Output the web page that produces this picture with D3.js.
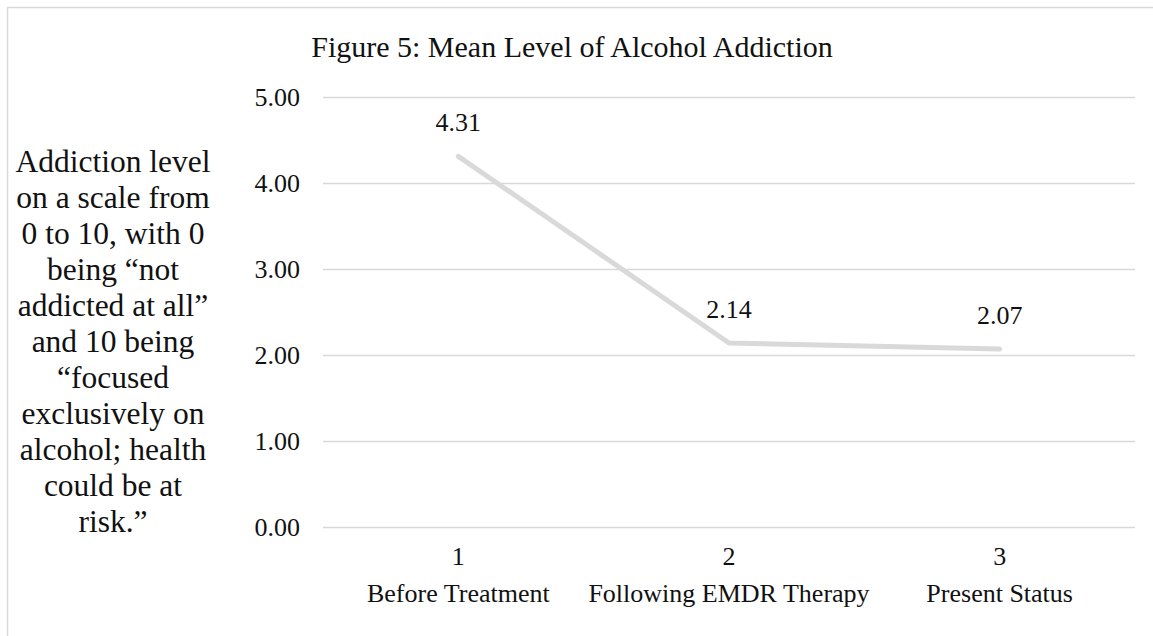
<!DOCTYPE html>
<html>
<head>
<meta charset="utf-8">
<script src="https://cdn.jsdelivr.net/npm/d3@7"></script>
<style>
  html, body { margin: 0; padding: 0; background: #fff; }
  svg { display: block; }
  svg text { font-family: "Liberation Serif", "Times New Roman", serif; }
</style>
</head>
<body>
<svg id="chart" width="1153" height="636"></svg>
<script>
// Mean addiction level at each stage
const stageNumbers = ["1", "2", "3"];
const stageNames = ["Before Treatment", "Following EMDR Therapy", "Present Status"];
const meanLevels = [4.31, 2.14, 2.07];
const yTicks = [0, 1, 2, 3, 4, 5];
const titleText = "Figure 5: Mean Level of Alcohol Addiction";
const yTitleLines = [
  "Addiction level",
  "on a scale from",
  "0 to 10, with 0",
  "being \u201cnot",
  "addicted at all\u201d",
  "and 10 being",
  "\u201cfocused",
  "exclusively on",
  "alcohol; health",
  "could be at",
  "risk.\u201d"
];

const FONT = "Liberation Serif, Times New Roman, serif";
const svg = d3.select("#chart");
const textColor = "#111";
const gridColor = "#d9d9d9";

// chart area frame (right/bottom edges fall outside the canvas)
svg.append("rect")
  .attr("x", 7.5).attr("y", 7.5)
  .attr("width", 1170).attr("height", 650)
  .attr("fill", "none")
  .attr("stroke", gridColor)
  .attr("stroke-width", 1.5);

const plot = { left: 323, right: 1135, top: 97, bottom: 527 };

const x = d3.scaleBand()
  .domain(d3.range(stageNames.length))
  .range([plot.left, plot.right]);

const y = d3.scaleLinear()
  .domain([0, 5])
  .range([plot.bottom, plot.top]);

// horizontal gridlines + tick labels
const yAxis = d3.axisLeft(y)
  .tickValues(yTicks)
  .tickFormat(d3.format(".2f"))
  .tickSize(-(plot.right - plot.left))
  .tickPadding(23);

const gy = svg.append("g")
  .attr("transform", `translate(${plot.left},0)`)
  .call(yAxis)
  .attr("font-family", FONT)
  .attr("font-size", 26);
gy.select(".domain").remove();
gy.selectAll(".tick line")
  .attr("stroke", gridColor)
  .attr("stroke-width", 1.3);
gy.selectAll(".tick text")
  .attr("fill", textColor)
  .attr("font-size", 26)
  .attr("font-family", FONT);

// category axis: number row and name row
const gx = svg.append("g");
gx.selectAll("text.num")
  .data(stageNumbers)
  .join("text")
  .attr("class", "num")
  .attr("x", (d, i) => x(i) + x.bandwidth() / 2)
  .attr("y", 565)
  .attr("text-anchor", "middle")
  .attr("font-family", FONT)
  .attr("font-size", 26)
  .attr("fill", textColor)
  .text(d => d);
gx.selectAll("text.name")
  .data(stageNames)
  .join("text")
  .attr("class", "name")
  .attr("x", (d, i) => x(i) + x.bandwidth() / 2)
  .attr("y", 602)
  .attr("text-anchor", "middle")
  .attr("font-family", FONT)
  .attr("font-size", 26)
  .attr("fill", textColor)
  .text(d => d);

// series line
const line = d3.line()
  .x((d, i) => x(i) + x.bandwidth() / 2)
  .y(d => y(d));

svg.append("path")
  .datum(meanLevels)
  .attr("d", line)
  .attr("fill", "none")
  .attr("stroke", "#d9d9d9")
  .attr("stroke-width", 5)
  .attr("stroke-linecap", "round")
  .attr("stroke-linejoin", "round");

// value labels above points
svg.selectAll("text.value")
  .data(meanLevels)
  .join("text")
  .attr("class", "value")
  .attr("x", (d, i) => x(i) + x.bandwidth() / 2)
  .attr("y", d => y(d) - 25)
  .attr("text-anchor", "middle")
  .attr("font-family", FONT)
  .attr("font-size", 26)
  .attr("fill", textColor)
  .text(d => d3.format(".2f")(d));

// chart title
svg.append("text")
  .attr("x", 572)
  .attr("y", 57)
  .attr("text-anchor", "middle")
  .attr("font-family", FONT)
  .attr("font-size", 30)
  .attr("fill", textColor)
  .text(titleText);

// vertical axis title, stacked lines
svg.append("text")
  .attr("text-anchor", "middle")
  .attr("font-family", FONT)
  .attr("font-size", 31.5)
  .attr("fill", textColor)
  .selectAll("tspan")
  .data(yTitleLines)
  .join("tspan")
  .attr("x", 113)
  .attr("y", (d, i) => 172 + i * 36)
  .text(d => d);
</script>
</body>
</html>
